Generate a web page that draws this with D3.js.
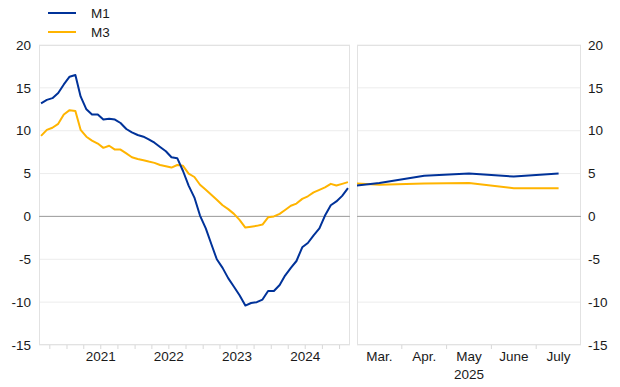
<!DOCTYPE html>
<html>
<head>
<meta charset="utf-8">
<script src="https://cdn.jsdelivr.net/npm/d3@7"></script>
<style>
  html, body { margin: 0; padding: 0; background: #fff; }
  svg { display: block; font-family: "Liberation Sans", Arial, Helvetica, sans-serif; }
</style>
</head>
<body>
<svg id="chart" width="620" height="387"></svg>
<script>
// ---- data ----
const seriesNames = ["M1", "M3"];
const firstMonth = "2020-08"; // monthly observations, Aug 2020 – Feb 2025
const m1Left = [13.2, 13.6, 13.8, 14.4, 15.4, 16.3, 16.5, 14.0, 12.5, 11.9, 11.9, 11.3, 11.4, 11.3, 10.9, 10.2,
  9.8, 9.5, 9.3, 9.0, 8.6, 8.1, 7.6, 6.9, 6.8, 5.3, 3.6, 2.2, 0.1, -1.4, -3.3, -5.0, -6.0, -7.2, -8.2, -9.2,
  -10.4, -10.1, -10.0, -9.7, -8.7, -8.7, -8.0, -6.9, -6.0, -5.2, -3.6, -3.1, -2.2, -1.4, 0.1, 1.3, 1.75, 2.4, 3.3];
const m3Left = [9.4, 10.1, 10.35, 10.8, 11.9, 12.4, 12.3, 10.1, 9.3, 8.85, 8.5, 8.0, 8.25, 7.8, 7.8, 7.35,
  6.9, 6.7, 6.55, 6.4, 6.25, 6.0, 5.85, 5.7, 6.0, 5.9, 5.0, 4.6, 3.7, 3.1, 2.5, 1.95, 1.3, 0.85, 0.3, -0.4,
  -1.3, -1.2, -1.1, -0.95, -0.1, 0.0, 0.3, 0.75, 1.25, 1.5, 2.05, 2.35, 2.8, 3.1, 3.4, 3.8, 3.6, 3.8, 4.0];
const rightMonths = ["Feb.", "Mar.", "Apr.", "May", "June", "July"];
const rightLabels = ["Mar.", "Apr.", "May", "June", "July"];
const rightYear = "2025";
const m1Right = [3.3, 3.9, 4.75, 5.0, 4.65, 5.0];
const m3Right = [4.0, 3.7, 3.85, 3.9, 3.3, 3.3];
const yearLabels = [2021, 2022, 2023, 2024];
const yTicks = [-15, -10, -5, 0, 5, 10, 15, 20];
const colors = { M1: "#003299", M3: "#FFB400" };

// ---- layout ----
const svg = d3.select("#chart");
const yTop = 45, yBot = 345;
const lx0 = 39, lx1 = 350, rx0 = 357, rx1 = 581;
const fs = 13.5, txt = "#1a1a1a";

const y = d3.scaleLinear().domain([-15, 20]).range([yBot, yTop]);

const parse = d3.timeParse("%Y-%m");
const start = parse(firstMonth);
const dates = m1Left.map((_, i) => d3.timeDay.offset(d3.timeMonth.offset(start, i), 14));
const xL = d3.scaleTime()
  .domain([new Date(2020, 7, 4), new Date(2025, 1, 26)])
  .range([lx0, lx1]);

const step = (rx1 - rx0) / rightLabels.length;
const xR = d3.scalePoint().domain(rightMonths).range([rx0 - step / 2, rx1 - step / 2]);

// clip paths
const defs = svg.append("defs");
defs.append("clipPath").attr("id", "clipL").append("rect")
  .attr("x", lx0).attr("y", yTop - 5).attr("width", lx1 - lx0).attr("height", yBot - yTop + 10);
defs.append("clipPath").attr("id", "clipR").append("rect")
  .attr("x", rx0).attr("y", yTop - 5).attr("width", rx1 - rx0).attr("height", yBot - yTop + 10);

// panels: gridlines
function panel(x0, x1) {
  const g = svg.append("g");
  g.selectAll("line.grid").data(yTicks).join("line")
    .attr("x1", x0).attr("x2", x1)
    .attr("y1", d => y(d)).attr("y2", d => y(d))
    .attr("stroke", d => d === 0 ? "#a6a6a6" : "#ececec")
    .attr("stroke-width", 1);
  g.append("rect")
    .attr("x", x0 + 0.5).attr("y", yTop + 0.5)
    .attr("width", x1 - x0 - 1).attr("height", yBot - yTop - 1)
    .attr("fill", "none").attr("stroke", "#e2e2e2").attr("stroke-width", 1);
  g.append("line").attr("x1", x0).attr("x2", x1).attr("y1", y(0)).attr("y2", y(0))
    .attr("stroke", "#a6a6a6");
  return g;
}
panel(lx0, lx1);
panel(rx0, rx1);

// y axes (text labels)
svg.append("g").selectAll("text").data(yTicks).join("text")
  .attr("x", 31).attr("y", d => y(d)).attr("dy", "0.35em")
  .attr("text-anchor", "end").attr("font-size", fs).attr("fill", txt)
  .text(d => d);
svg.append("g").selectAll("text").data(yTicks).join("text")
  .attr("x", 588).attr("y", d => y(d)).attr("dy", "0.35em")
  .attr("text-anchor", "start").attr("font-size", fs).attr("fill", txt)
  .text(d => d);

// bottom ticks left panel (quarters)
const qTicks = d3.timeMonth.every(3).range(new Date(2020, 9, 1), new Date(2025, 2, 1));
svg.append("g").selectAll("line").data(qTicks).join("line")
  .attr("x1", d => xL(d)).attr("x2", d => xL(d))
  .attr("y1", yBot).attr("y2", yBot + 4)
  .attr("stroke", "#d8d8d8");
// year labels
svg.append("g").selectAll("text").data(yearLabels).join("text")
  .attr("x", d => xL(new Date(d, 6, 1)))
  .attr("y", 356).attr("dy", "0.35em")
  .attr("text-anchor", "middle").attr("font-size", fs).attr("fill", txt)
  .text(d => d);

// right panel ticks and labels
svg.append("g").selectAll("line").data(rightLabels.slice(1)).join("line")
  .attr("x1", d => xR(d) - step / 2).attr("x2", d => xR(d) - step / 2)
  .attr("y1", yBot).attr("y2", yBot + 4)
  .attr("stroke", "#d8d8d8");
svg.append("g").selectAll("text").data(rightLabels).join("text")
  .attr("x", d => xR(d)).attr("y", 356).attr("dy", "0.35em")
  .attr("text-anchor", "middle").attr("font-size", fs).attr("fill", txt)
  .text(d => d);
svg.append("text")
  .attr("x", xR("May")).attr("y", 374).attr("dy", "0.35em")
  .attr("text-anchor", "middle").attr("font-size", fs).attr("fill", txt)
  .text(rightYear);

// lines
const lineL = d3.line().x((d, i) => xL(dates[i])).y(d => y(d));
const lineR = d3.line().x((d, i) => xR(rightMonths[i])).y(d => y(d));
const gl = svg.append("g").attr("clip-path", "url(#clipL)");
const gr = svg.append("g").attr("clip-path", "url(#clipR)");
[["M3", m3Left, m3Right], ["M1", m1Left, m1Right]].forEach(([name, l, r]) => {
  gl.append("path").datum(l).attr("d", lineL)
    .attr("fill", "none").attr("stroke", colors[name]).attr("stroke-width", 2)
    .attr("stroke-linejoin", "round");
  gr.append("path").datum(r).attr("d", lineR)
    .attr("fill", "none").attr("stroke", colors[name]).attr("stroke-width", 2)
    .attr("stroke-linejoin", "round");
});

// legend
const leg = svg.append("g").selectAll("g").data(seriesNames).join("g")
  .attr("transform", (d, i) => `translate(0, ${13 + i * 19})`);
leg.append("line").attr("x1", 48).attr("x2", 76).attr("y1", 0).attr("y2", 0)
  .attr("stroke", d => colors[d]).attr("stroke-width", 2);
leg.append("text").attr("x", 91).attr("y", 0).attr("dy", "0.35em")
  .attr("font-size", fs).attr("fill", txt).text(d => d);
</script>
</body>
</html>
